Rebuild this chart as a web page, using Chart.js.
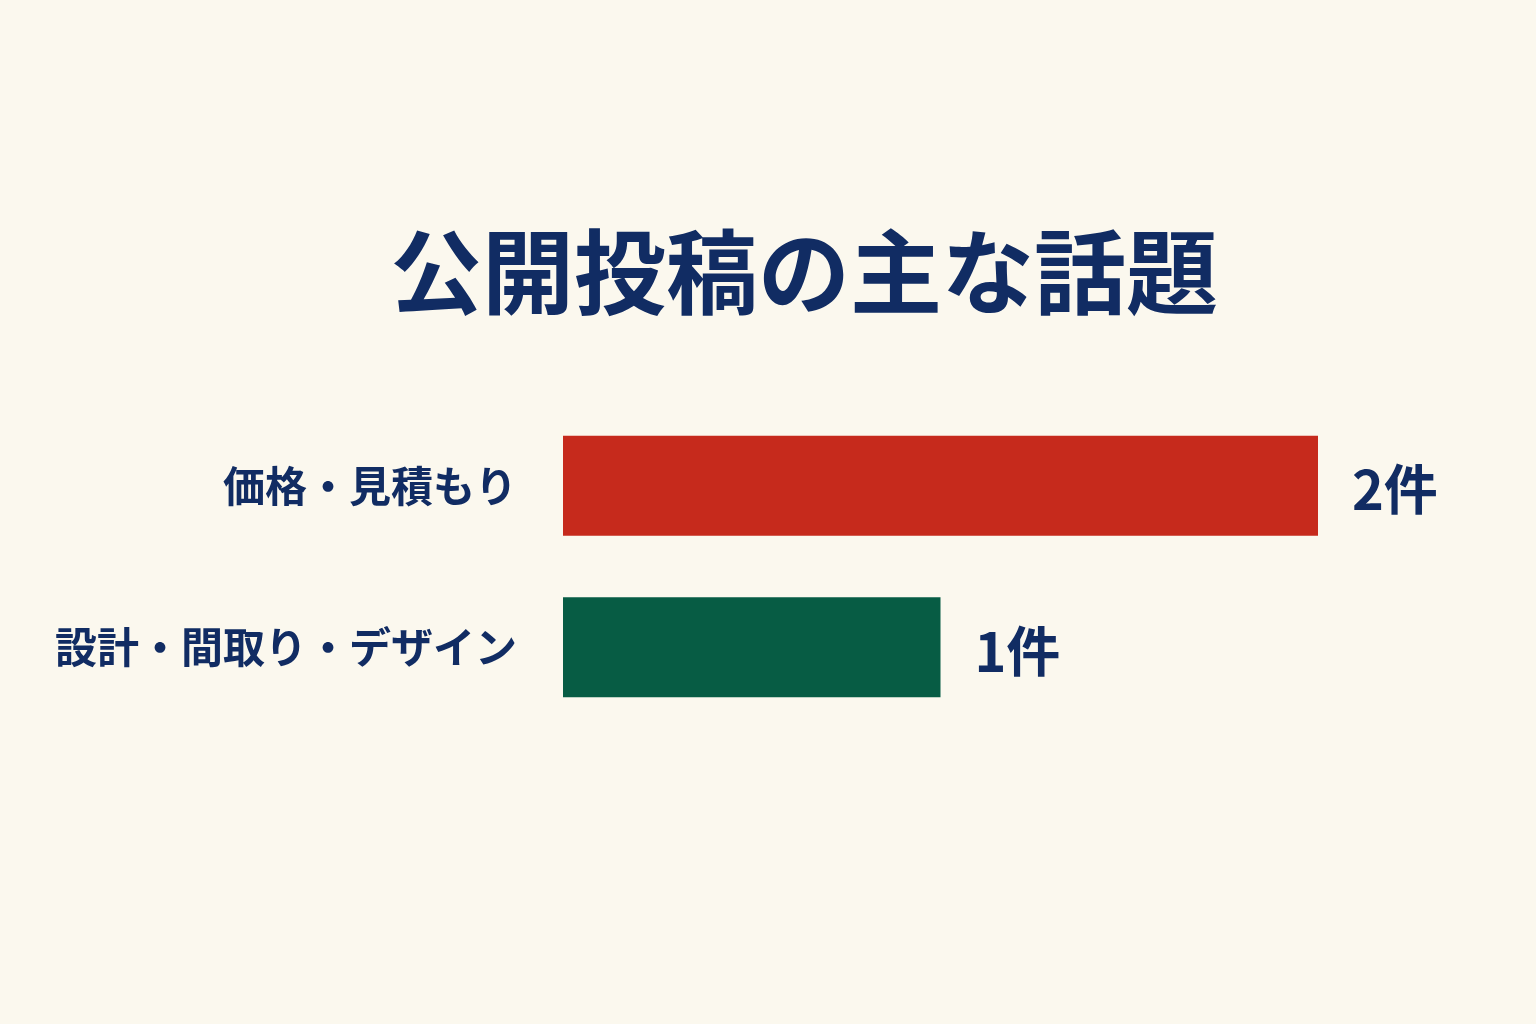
<!DOCTYPE html>
<html>
<head>
<meta charset="utf-8">
<script src="https://cdn.jsdelivr.net/npm/chart.js@4/dist/chart.umd.min.js"></script>
<style>
    html, body { margin: 0; padding: 0; background: #FBF8EE; }
    #wrap { width: 1536px; height: 1024px; }
</style>
</head>
<body>
<div id="wrap"><canvas id="chart1"></canvas></div>
<script>
const titleText = '公開投稿の主な話題';
const categories = ['価格・見積もり', '設計・間取り・デザイン'];
const counts = [2, 1];
const barColors = ['#C62A1C', '#075C44'];
const unitLabel = '件';

const navy = '#112C63';
const jpFont = '"Noto Sans CJK JP", "Noto Sans", sans-serif';

const bgPlugin = {
    id: 'bg',
    beforeDraw: (chart) => {
        const ctx = chart.ctx;
        ctx.save();
        ctx.fillStyle = '#FBF8EE';
        ctx.fillRect(0, 0, chart.width, chart.height);
        ctx.restore();
    }
};

// title sits centred on the page, not on the chart box
const titlePlugin = {
    id: 'pageTitle',
    afterDraw: (chart) => {
        const ctx = chart.ctx;
        ctx.save();
        ctx.fillStyle = navy;
        ctx.font = 'bold 92px ' + jpFont;
        ctx.textAlign = 'center';
        ctx.textBaseline = 'middle';
        ctx.fillText(titleText, 804, 272);
        ctx.restore();
    }
};

const valueLabels = {
    id: 'valueLabels',
    afterDatasetsDraw: (chart) => {
        const ctx = chart.ctx;
        const meta = chart.getDatasetMeta(0);
        ctx.save();
        ctx.fillStyle = navy;
        ctx.font = 'bold 54px ' + jpFont;
        ctx.textAlign = 'left';
        ctx.textBaseline = 'middle';
        meta.data.forEach((bar, i) => {
            ctx.fillText(counts[i] + unitLabel, bar.x + 34, bar.y + 4);
        });
        ctx.restore();
    }
};

new Chart(document.getElementById('chart1'), {
    type: 'bar',
    data: {
        labels: categories,
        datasets: [{
            data: counts,
            backgroundColor: barColors,
            borderWidth: 0,
            barPercentage: 0.62,
            categoryPercentage: 1.0
        }]
    },
    options: {
        indexAxis: 'y',
        responsive: true,
        maintainAspectRatio: false,
        devicePixelRatio: 1,
        animation: false,
        layout: {
            padding: { top: 405, right: 218, bottom: 296, left: 0 }
        },
        plugins: {
            legend: { display: false },
            tooltip: { enabled: false },
            title: { display: false }
        },
        scales: {
            x: {
                display: false,
                min: 0,
                max: 2
            },
            y: {
                grid: { display: false, drawTicks: false },
                border: { display: false },
                ticks: {
                    color: navy,
                    padding: 46,
                    font: { family: jpFont, size: 42, weight: 'bold' }
                },
                afterFit: (scale) => { scale.width = 563; }
            }
        }
    },
    plugins: [bgPlugin, titlePlugin, valueLabels]
});
</script>
</body>
</html>
